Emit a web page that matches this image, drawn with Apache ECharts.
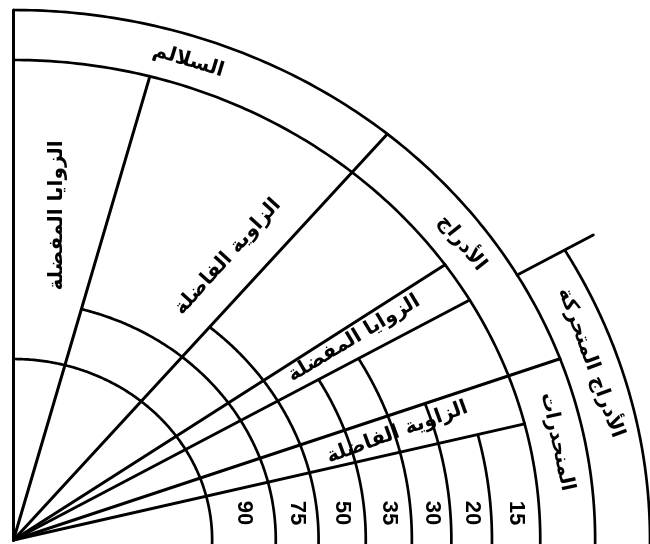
<!DOCTYPE html>
<html>
<head>
<meta charset="utf-8">
<script src="https://cdn.jsdelivr.net/npm/echarts@6/dist/echarts.min.js"></script>
<style>
html,body{margin:0;padding:0;background:#fff;}
#chart{width:650px;height:544px;}
</style>
</head>
<body>
<div id="chart"></div>
<script>
// ---- data (radius in drawing units, angles in degrees) ----
const arcRadii      = [181, 239, 278, 321, 363, 399, 436, 480, 530, 580];
const arcEndAngles  = [90, 75, 50, 30, 30, 20, 14, 90, 90, 30];
const rayAngles     = [90, 75, 50, 35, 30, 20, 14, 30];
const rayInner      = [0, 0, 0, 0, 0, 0, 0, 530];
const rayOuter      = [530, 480, 530, 480, 480, 530, 480, 610];
const angleLabels   = ['90', '75', '50', '35', '30', '20', '15'];
const zoneNames     = ['السلالم', 'الأدراج', 'المنحدرات', 'الأدراج المتحركة',
                       'الزوايا المفضلة', 'الزاوية الفاضلة', 'الزوايا المفضلة', 'الزاوية الفاضلة'];

// ---- layout (placement of the zone names) ----
const zoneAngle  = [71.6, 36, 11.2, 18.6, 83, 55.4, 33, 17.1];
const zoneRadius = [505, 505, 505, 555, 327, 344, 370, 366];
const zoneRotate = ['t', 't', 't', 't', 90, 48, 31, 20];

const D = Math.PI / 180;
const FONT_AR = 'bold 20px "DejaVu Sans"';
const FONT_NUM = 'bold 22px "Liberation Sans"';
const LW = 2.7;

function polar(r, a) { return [r * Math.cos(a * D), r * Math.sin(a * D)]; }

const chart = echarts.init(document.getElementById('chart'), null, {renderer: 'canvas'});
chart.setOption({
  backgroundColor: '#ffffff',
  animation: false,
  grid: {left: 13.5, top: 0, width: 638, height: 540},
  xAxis: {type: 'value', min: 0, max: 580, show: false},
  yAxis: {type: 'value', min: 0, max: 540, show: false},
  series: [
    {
      type: 'custom', clip: false,
      data: arcRadii.map((r, i) => [r, -3, arcEndAngles[i]]),
      renderItem: function (params, api) {
        const r = api.value(0), a0 = api.value(1), a1 = api.value(2);
        const pts = [];
        const n = 160;
        for (let k = 0; k <= n; k++) {
          pts.push(api.coord(polar(r, a0 + (a1 - a0) * k / n)));
        }
        return {type: 'polyline', shape: {points: pts},
                style: {stroke: '#000', lineWidth: LW, fill: null}};
      }
    },
    {
      type: 'custom', clip: false,
      data: rayAngles.map((a, i) => [a, rayInner[i], rayOuter[i]]),
      renderItem: function (params, api) {
        const a = api.value(0);
        const p0 = api.coord(polar(api.value(1), a));
        const p1 = api.coord(polar(api.value(2), a));
        return {type: 'line', shape: {x1: p0[0], y1: p0[1], x2: p1[0], y2: p1[1]},
                style: {stroke: '#000', lineWidth: LW + 0.3, lineCap: 'round'}};
      }
    },
    {
      type: 'custom', clip: false,
      data: angleLabels.map((t, i) => [(arcRadii[i] + arcRadii[i + 1]) / 2, 27]),
      renderItem: function (params, api) {
        const p = api.coord([api.value(0), api.value(1)]);
        return {type: 'text', x: p[0], y: p[1], rotation: -Math.PI / 2,
                style: {text: angleLabels[params.dataIndex], font: FONT_NUM, fill: '#000',
                        align: 'center', verticalAlign: 'middle'}};
      }
    },
    {
      type: 'custom', clip: false,
      data: zoneNames.map((t, i) => [zoneAngle[i], zoneRadius[i]]),
      renderItem: function (params, api) {
        const i = params.dataIndex;
        const a = api.value(0), r = api.value(1);
        const p = api.coord(polar(r, a));
        let rot;
        if (zoneRotate[i] === 't') {
          const q1 = api.coord(polar(r, a + 0.5));
          const q2 = api.coord(polar(r, a - 0.5));
          rot = -Math.atan2(q2[1] - q1[1], q2[0] - q1[0]);
        } else {
          rot = zoneRotate[i] * D;
        }
        return {type: 'text', x: p[0], y: p[1], rotation: rot,
                style: {text: zoneNames[i], font: FONT_AR, fill: '#000',
                        align: 'center', verticalAlign: 'middle'}};
      }
    }
  ]
});
</script>
</body>
</html>
